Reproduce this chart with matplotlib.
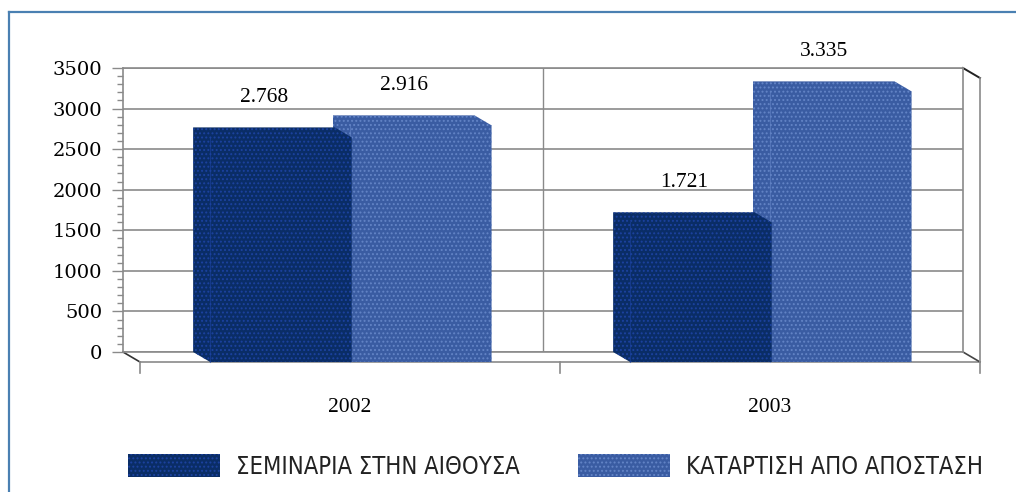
import matplotlib.pyplot as plt
from matplotlib.patches import Polygon, Rectangle
from matplotlib.lines import Line2D

# data
years = ['2002', '2003']
series_names = ['ΣΕΜΙΝΑΡΙΑ ΣΤΗΝ ΑΙΘΟΥΣΑ', 'ΚΑΤΑΡΤΙΣΗ ΑΠΟ ΑΠΟΣΤΑΣΗ']
seminars = [2768, 1721]
distance = [2916, 3335]
yticks = [0, 500, 1000, 1500, 2000, 2500, 3000, 3500]

face_colors = ['#0a2d66', '#3a5ca2']
dot_colors = ['#1c42a0', '#6384c6']

W, H = 1016, 492
fig = plt.figure(figsize=(W / 100, H / 100), dpi=100)
plt.rcParams['hatch.linewidth'] = 0.9

# back wall of the pseudo 3d chart
ax = fig.add_axes([123 / W, (H - 352) / H, 840 / W, 284 / H])
ax.set_xlim(-0.5, 1.5)
ax.set_ylim(0, 3500)

# depth offset (17 px right, 10 px down) in data units
dx = 17 / 420
dy = 10 * 3500 / 284

grid_col = '#8a8a8a'
ax.set_yticks(yticks)
ax.set_yticks(range(0, 3501, 100), minor=True)
ax.set_xticks([])
ax.tick_params(axis='y', which='major', length=8, width=1, color=grid_col, pad=7,
               labelsize=14)
ax.tick_params(axis='y', which='minor', length=4, width=1, color=grid_col)
for lab in ax.get_yticklabels():
    lab.set_family('DejaVu Serif')
ax.grid(axis='y', color=grid_col, linewidth=1.2)
ax.axvline(0.5, color=grid_col, linewidth=1.0)
for sp in ax.spines.values():
    sp.set_color(grid_col)
    sp.set_linewidth(1.2)
ax.set_axisbelow(True)

# floor and right wall
kw = dict(color=grid_col, linewidth=1.2, clip_on=False)
ax.plot([-0.5, -0.5 + dx], [0, -dy], color='#333333', linewidth=1.2, clip_on=False)
ax.plot([-0.5 + dx, 1.5 + dx], [-dy, -dy], **kw)
ax.plot([1.5, 1.5 + dx], [0, -dy], color='#444444', linewidth=1.2, clip_on=False)
ax.plot([1.5, 1.5 + dx], [3500, 3500 - dy], color='#222222', linewidth=1.4, clip_on=False)
ax.plot([1.5 + dx, 1.5 + dx], [3500 - dy, -dy], **kw)
for xt in [-0.5, 0.5, 1.5]:
    ax.plot([xt + dx, xt + dx], [-dy, -2.1 * dy], **kw)

# bars
width = 0.337
offsets = [-0.333, 0.0]
values = [seminars, distance]
for j in [1, 0]:
    for i, v in enumerate(values[j]):
        x0 = i + offsets[j]
        x1 = x0 + width
        pts = [(x0, v), (x1, v), (x1 + dx, v - dy), (x1 + dx, -dy),
               (x0 + dx, -dy), (x0, 0)]
        poly = Polygon(pts, closed=True, facecolor=face_colors[j],
                       edgecolor=dot_colors[j], hatch='....', linewidth=0,
                       clip_on=False, zorder=3)
        ax.add_patch(poly)
        ax.plot([x0 + dx, x0 + dx], [v - dy, -dy], color=dot_colors[j],
                linewidth=0.8, alpha=0.6, clip_on=False, zorder=3)

# value labels
for j in range(2):
    for i, v in enumerate(values[j]):
        xc = i + offsets[j] + width / 2
        ax.text(xc, v + 370, f'{v:,}'.replace(',', '.'), ha='center', va='center',
                fontsize=15.5, family='Liberation Serif', zorder=4)

# category labels
for i, yr in enumerate(years):
    ax.text(i + dx, -690, yr, ha='center', va='center', fontsize=15.5,
            family='Liberation Serif', clip_on=False)

# legend
leg_x = [128, 578]
txt_x = [236, 686]
for j in range(2):
    fig.patches.append(Rectangle((leg_x[j] / W, (H - 477) / H), 92 / W, 23 / H,
                                 transform=fig.transFigure, facecolor=face_colors[j],
                                 edgecolor=dot_colors[j], hatch='....', linewidth=0))
    fig.text(txt_x[j] / W, (H - 466.5) / H, series_names[j], ha='left', va='center',
             fontsize=17, family='DejaVu Sans', fontstretch='condensed',
             color='#222222')

# blue frame, open to the right and bottom
fc = '#4a80b2'
fig.lines.append(Line2D([8.5 / W, 8.5 / W], [0, (H - 12) / H], transform=fig.transFigure,
                        color=fc, linewidth=1.6))
fig.lines.append(Line2D([8.5 / W, 1], [(H - 12) / H, (H - 12) / H], transform=fig.transFigure,
                        color=fc, linewidth=1.6))

fig.savefig('out.png', dpi=100)
